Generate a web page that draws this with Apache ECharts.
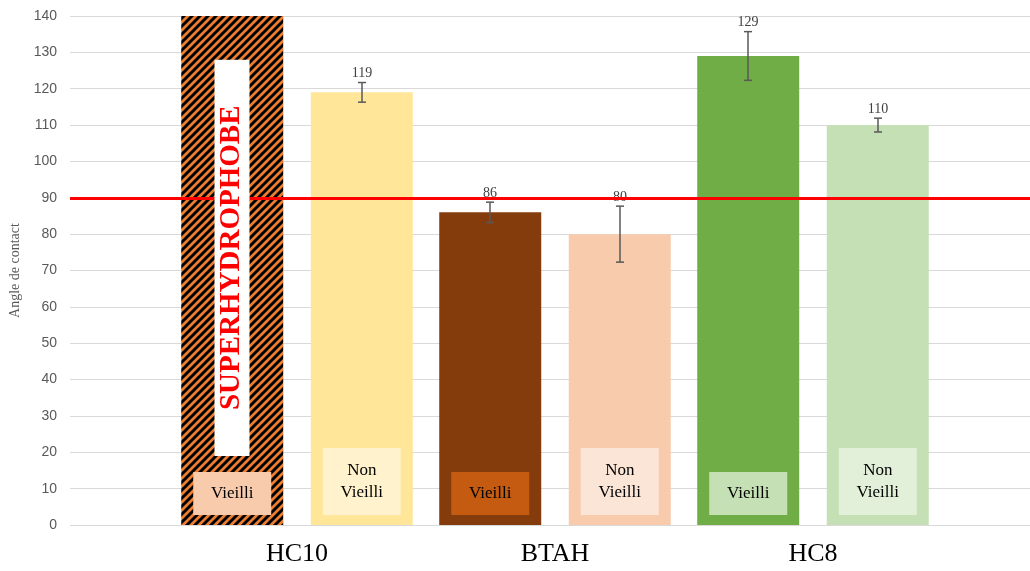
<!DOCTYPE html>
<html>
<head>
  <meta charset="utf-8" />
  <title>Angle de contact</title>
  <script src="https://cdn.jsdelivr.net/npm/echarts@6/dist/echarts.min.js"></script>
  <style>
    html, body { margin: 0; padding: 0; background: #fff; }
  </style>
</head>
<body>
  <div id="main" style="width: 1030px;height:571px;"></div>
  <script type="text/javascript">
    // données
    var categories = ['HC10', 'BTAH', 'HC8'];
    var vieilli = [140, 86, 129];          // HC10 vieilli = superhydrophobe (barre pleine)
    var nonVieilli = [119, 80, 110];
    var errVieilli = [0, 2.8, 6.7];
    var errNonVieilli = [2.7, 7.7, 1.9];
    var seuil = 90;
    var yTicks = { min: 0, max: 140, interval: 10 };
    // encadré "SUPERHYDROPHOBE" : [catégorie, bas, haut]
    var superZone = [[0, 19, 128]];

    var myChart = echarts.init(document.getElementById('main'));

    // motif hachuré orange / noir
    var cv = document.createElement('canvas');
    cv.width = 8; cv.height = 8;
    var g = cv.getContext('2d');
    g.fillStyle = '#ED7D31';
    g.fillRect(0, 0, 8, 8);
    g.strokeStyle = '#000';
    g.lineWidth = 3;
    g.beginPath();
    g.moveTo(-2, 10); g.lineTo(10, -2);
    g.moveTo(-2, 2); g.lineTo(2, -2);
    g.moveTo(6, 10); g.lineTo(10, 6);
    g.stroke();

    var colV = [{ image: cv, repeat: 'repeat' }, '#843C0C', '#70AD47'];
    var colNV = ['#FFE699', '#F8CBAD', '#C5E0B4'];
    var boxV = ['#F8CBAD', '#C55A11', '#C5E0B4'];
    var boxNV = ['#FFF2CC', '#FBE5D6', '#E2F0D9'];

    function boxLabel(text, bg, twoLines) {
      return {
        show: true,
        position: 'insideBottom',
        distance: 10,
        formatter: text,
        backgroundColor: bg,
        width: 78,
        lineHeight: twoLines ? 22 : 43,
        padding: twoLines ? [12, 0, 11, 0] : 0,
        color: '#000',
        fontFamily: 'Liberation Serif',
        fontSize: 17,
        align: 'center'
      };
    }

    var dataV = vieilli.map(function (v, i) {
      return { value: v, itemStyle: { color: colV[i] }, label: boxLabel('Vieilli', boxV[i], false) };
    });
    var dataNV = nonVieilli.map(function (v, i) {
      return { value: v, itemStyle: { color: colNV[i] }, label: boxLabel('Non\nVieilli', boxNV[i], true) };
    });

    var errData = [];
    vieilli.forEach(function (v, i) {
      if (errVieilli[i] > 0) errData.push([i, 0, v, errVieilli[i]]);
    });
    nonVieilli.forEach(function (v, i) {
      errData.push([i, 1, v, errNonVieilli[i]]);
    });

    function barOffset(api, side) {
      var band = api.size([1, 0])[0];
      return (side === 0 ? -1 : 1) * band * 65 / 258;
    }

    function renderErr(params, api) {
      var cat = api.value(0), side = api.value(1), val = api.value(2), err = api.value(3);
      var off = barOffset(api, side);
      var top = api.coord([cat, val + err]);
      var bot = api.coord([cat, val - err]);
      var x = top[0] + off;
      var st = { stroke: '#595959', lineWidth: 1.5 };
      return {
        type: 'group',
        children: [
          { type: 'line', shape: { x1: x, y1: top[1], x2: x, y2: bot[1] }, style: st },
          { type: 'line', shape: { x1: x - 4, y1: top[1], x2: x + 4, y2: top[1] }, style: st },
          { type: 'line', shape: { x1: x - 4, y1: bot[1], x2: x + 4, y2: bot[1] }, style: st },
          {
            type: 'text',
            style: {
              text: String(val), x: x, y: top[1] - 2,
              align: 'center', verticalAlign: 'bottom',
              fontFamily: 'Liberation Serif', fontSize: 14, fill: '#404040'
            }
          }
        ]
      };
    }

    function renderSuper(params, api) {
      var cat = api.value(0);
      var off = barOffset(api, 0);
      var band = api.size([1, 0])[0];
      var top = api.coord([cat, api.value(2)]);
      var bot = api.coord([cat, api.value(1)]);
      var w = band * 35 / 258;
      var x = top[0] + off;
      return {
        type: 'group',
        children: [
          { type: 'rect', shape: { x: x - w / 2, y: top[1], width: w, height: bot[1] - top[1] }, style: { fill: '#fff' } },
          {
            type: 'text', x: x, y: (top[1] + bot[1]) / 2, rotation: Math.PI / 2,
            style: {
              text: 'SUPERHYDROPHOBE', align: 'center', verticalAlign: 'middle',
              fontFamily: 'Liberation Serif', fontWeight: 'bold', fontSize: 29, fill: '#FF0000'
            }
          }
        ]
      };
    }

    var option = {
      backgroundColor: '#fff',
      animation: false,
      grid: [
        { left: 70, right: 0, top: 16, bottom: 46 },
        { left: 168, right: 88, top: 16, bottom: 46 }
      ],
      xAxis: [
        { gridIndex: 0, type: 'category', data: [''], show: false },
        {
          gridIndex: 1, type: 'category', data: categories,
          axisLine: { show: false }, axisTick: { show: false },
          axisLabel: { color: '#000', fontFamily: 'Liberation Serif', fontSize: 26, margin: 16 }
        }
      ],
      yAxis: [
        {
          gridIndex: 0, type: 'value', min: yTicks.min, max: yTicks.max, interval: yTicks.interval,
          name: 'Angle de contact', nameLocation: 'middle', nameGap: 47,
          nameTextStyle: { color: '#595959', fontFamily: 'Liberation Serif', fontSize: 14 },
          axisLine: { show: false }, axisTick: { show: false },
          axisLabel: { color: '#595959', fontFamily: 'Liberation Sans', fontSize: 14, margin: 13 },
          splitLine: { lineStyle: { color: '#d9d9d9', width: 1 } }
        },
        { gridIndex: 1, type: 'value', min: yTicks.min, max: yTicks.max, show: false }
      ],
      series: [
        {
          name: 'seuil', type: 'line', xAxisIndex: 0, yAxisIndex: 0, data: [], z: 5,
          markLine: {
            silent: true, symbol: 'none', label: { show: false },
            lineStyle: { color: '#FF0000', width: 3, type: 'solid' },
            data: [{ yAxis: seuil }]
          }
        },
        {
          name: 'Vieilli', type: 'bar', xAxisIndex: 1, yAxisIndex: 1, z: 2,
          barWidth: 102, barGap: '27%', data: dataV
        },
        {
          name: 'Non Vieilli', type: 'bar', xAxisIndex: 1, yAxisIndex: 1, z: 2,
          barWidth: 102, barGap: '27%', data: dataNV
        },
        {
          type: 'custom', xAxisIndex: 1, yAxisIndex: 1, z: 4, silent: true,
          renderItem: renderErr, encode: { x: 0, y: 2 }, data: errData
        },
        {
          type: 'custom', xAxisIndex: 1, yAxisIndex: 1, z: 6, silent: true,
          renderItem: renderSuper, encode: { x: 0, y: 2 }, data: superZone
        }
      ]
    };
    option && myChart.setOption(option);
  </script>
</body>
</html>
